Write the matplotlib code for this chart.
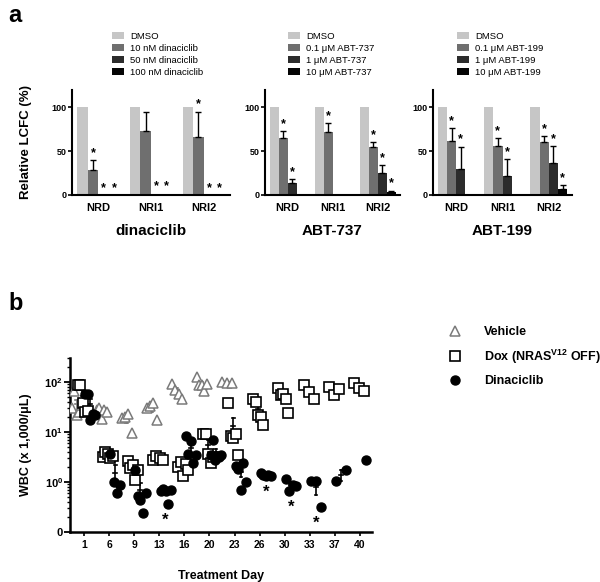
import numpy as np
import matplotlib
matplotlib.use("Agg")
import matplotlib.pyplot as plt
from matplotlib.patches import Patch
from matplotlib.lines import Line2D

plt.rcParams['font.family'] = ['Liberation Sans', 'DejaVu Sans']
plt.rcParams['mathtext.fontset'] = 'custom'
plt.rcParams['mathtext.rm'] = 'Liberation Sans'
plt.rcParams['mathtext.bf'] = 'Liberation Sans:bold'
plt.rcParams['mathtext.it'] = 'Liberation Sans:italic'

# ---------------- panel a data ----------------
lines = ["NRD", "NRI1", "NRI2"]
bar_colors = ["#c6c6c6", "#6f6f6f", "#2c2c2c", "#050505"]

dina_labels = ["DMSO", "10 nM dinaciclib", "50 nM dinaciclib", "100 nM dinaciclib"]
dina_vals = [[100, 29, 0, 0], [100, 73, 1.2, 1.2], [100, 66, 0, 0]]
dina_err = [[0, 11, 0, 0], [0, 22, 0, 0], [0, 29, 0, 0]]
dina_star = [[0, 1, 1, 1], [0, 0, 1, 1], [0, 1, 1, 1]]

abt737_labels = ["DMSO", "0.1 \u03bcM ABT-737", "1 \u03bcM ABT-737", "10 \u03bcM ABT-737"]
abt737_vals = [[100, 65, 14, 0], [100, 72, 0, 0], [100, 55, 25, 3]]
abt737_err = [[0, 8, 4, 0], [0, 10, 0, 0], [0, 5, 9, 2]]
abt737_star = [[0, 1, 1, 0], [0, 1, 0, 0], [0, 1, 1, 1]]

abt199_labels = ["DMSO", "0.1 \u03bcM ABT-199", "1 \u03bcM ABT-199", "10 \u03bcM ABT-199"]
abt199_vals = [[100, 62, 30, 0], [100, 56, 22, 0], [100, 60, 36, 7]]
abt199_err = [[0, 14, 25, 0], [0, 9, 19, 0], [0, 7, 20, 4]]
abt199_star = [[0, 1, 1, 0], [0, 1, 1, 0], [0, 1, 1, 1]]

# ---------------- panel b data ----------------
days = ["1", "6", "9", "13", "16", "20", "23", "26", "30", "33", "37", "40"]
vehicle = [
    [30, 65, 22, 25, 35],
    [28, 30, 18, 27, 25],
    [19, 20, 23, 9.5],
    [30, 33, 37, 17],
    [90, 70, 57, 45],
    [125, 85, 85, 65, 90],
    [100, 97, 96],
    [], [], [], [], [],
]
dox = [
    [85, 85, 38, 25, 26],
    [3.2, 4.0, 3.6, 3.0, 3.3],
    [2.6, 1.9, 2.2, 1.1, 1.7],
    [2.8, 3.3, 3.0, 2.7],
    [2.0, 2.5, 1.3, 2.3, 1.7],
    [9.2, 9.2, 3.6, 2.4, 3.2],
    [37, 8.2, 7.6, 9.0, 3.5],
    [45, 40, 22, 20, 14],
    [75, 55, 58, 45, 24],
    [85, 62, 45],
    [80, 55, 72],
    [95, 75, 65],
]
dinaciclib = [
    [58, 58, 17, 23, 22],
    [3.6, 1.0, 0.6, 0.87],
    [1.7, 0.52, 0.44, 0.24, 0.6],
    [0.65, 0.72, 0.66, 0.37, 0.68],
    [8.3, 3.6, 6.5, 2.4, 3.5],
    [3.5, 7.0, 2.8, 3.3, 3.2, 3.4],
    [2.1, 1.8, 0.68, 2.4, 1.0],
    [1.5, 1.4, 1.3, 1.35, 1.3],
    [1.15, 0.65, 0.85, 0.83],
    [1.05, 1.05, 0.31],
    [1.05, 1.75],
    [2.7],
]
dina_sig_days = ["13", "26", "30", "33"]

fig = plt.figure(figsize=(6.0, 5.82), dpi=100)
W, H = 600.0, 582.0


def px_axes(x0, y0, x1, y1):
    return fig.add_axes([x0 / W, 1 - y1 / H, (x1 - x0) / W, (y1 - y0) / H])


def bar_panel(ax, vals, errs, stars, labels, title, leg_x, ylabel=False):
    vals = np.asarray(vals, dtype=float)
    errs = np.asarray(errs, dtype=float)
    x = np.arange(len(lines))
    w = 0.2
    for j in range(4):
        xs = x + (j - 1.5) * w
        ax.bar(xs, vals[:, j], width=w, color=bar_colors[j], label=labels[j])
        for i in range(len(lines)):
            if errs[i, j] > 0:
                ax.errorbar(xs[i], vals[i, j], yerr=[[0], [errs[i, j]]], fmt='none',
                            ecolor='black', elinewidth=1.0, capsize=2.5, capthick=1.0)
            if stars[i][j]:
                ax.text(xs[i], vals[i, j] + errs[i, j] + 1.5, "*", ha='center', va='bottom',
                        fontsize=9, fontweight='bold')
    ax.set_xlim(-0.5, 2.5)
    ax.set_ylim(0, 120)
    ax.set_yticks([0, 50, 100])
    ax.set_yticklabels(["0", "50", "100"], fontsize=6.5, fontweight='bold')
    ax.set_xticks(x)
    ax.set_xticklabels(lines, fontsize=8, fontweight='bold')
    ax.tick_params(axis='x', length=0, pad=6)
    ax.tick_params(axis='y', length=3, width=1.2, pad=1)
    for s in ['top', 'right']:
        ax.spines[s].set_visible(False)
    ax.spines['left'].set_linewidth(1.5)
    ax.spines['bottom'].set_linewidth(1.5)
    ax.set_xlabel(title, fontsize=11, fontweight='bold', labelpad=8)
    if ylabel:
        ax.set_ylabel("Relative LCFC (%)", fontsize=9.5, fontweight='bold', labelpad=14)
    handles = [Patch(facecolor=c) for c in bar_colors]
    fig.legend(handles, labels, loc='upper left', bbox_to_anchor=(leg_x / W, 1 - 32 / H),
               frameon=False, fontsize=6.8, handlelength=1.3, handleheight=0.7,
               labelspacing=0.32, handletextpad=0.6, borderpad=0, borderaxespad=0)


ax1 = px_axes(72, 90, 230, 195)
bar_panel(ax1, dina_vals, dina_err, dina_star, dina_labels, "dinaciclib", 112, ylabel=True)
ax2 = px_axes(265, 90, 400, 195)
bar_panel(ax2, abt737_vals, abt737_err, abt737_star, abt737_labels, "ABT-737", 288)
ax3 = px_axes(433, 90, 572, 195)
bar_panel(ax3, abt199_vals, abt199_err, abt199_star, abt199_labels, "ABT-199", 457)

fig.text(8 / W, 1 - 4 / H, "a", fontsize=17, fontweight='bold', va='top', ha='left')
fig.text(8 / W, 1 - 292 / H, "b", fontsize=17, fontweight='bold', va='top', ha='left')

# ---------------- panel b ----------------
axb = px_axes(70, 358, 372, 532)
offsets = {"vehicle": -0.3, "dox": -0.05, "dina": 0.25}
styles = {
    "vehicle": dict(marker='^', mfc='white', mec='#7a7a7a', ms=7.5, mew=1.1),
    "dox": dict(marker='s', mfc='white', mec='black', ms=6.5, mew=1.2),
    "dina": dict(marker='o', mfc='black', mec='black', ms=6.5, mew=1.0),
}
series = {"vehicle": vehicle, "dox": dox, "dina": dinaciclib}
for key, data in series.items():
    for i, pts in enumerate(data):
        if len(pts) == 0:
            continue
        pts = np.asarray(pts, dtype=float)
        cx = i + offsets[key]
        n = len(pts)
        xs = cx + (np.linspace(-0.2, 0.2, n) if n > 1 else np.zeros(1))
        axb.plot(xs, pts, linestyle='none', zorder=3, **styles[key])
        if n > 1:
            m = pts.mean()
            sem = pts.std(ddof=1) / np.sqrt(n)
            lo = max(m - sem, 0.1)
            ecol = '#7a7a7a' if key == "vehicle" else 'black'
            axb.plot([cx, cx], [lo, m + sem], color=ecol, lw=1.2, zorder=2)
            for yy in (lo, m + sem):
                axb.plot([cx - 0.05, cx + 0.05], [yy, yy], color=ecol, lw=1.2, zorder=2)
            axb.plot([cx - 0.08, cx + 0.08], [m, m], color=ecol, lw=1.2, zorder=2)

for d in dina_sig_days:
    i = days.index(d)
    axb.text(i + offsets["dina"], min(dinaciclib[i]) / 1.5, "*", ha='center', va='top',
             fontsize=12, fontweight='bold')

axb.set_yscale('log')
axb.set_ylim(0.1, 300)
axb.set_yticks([0.1, 1, 10, 100])
axb.set_yticklabels(["0", r"$\mathbf{10^{0}}$", r"$\mathbf{10^{1}}$", r"$\mathbf{10^{2}}$"],
                    fontsize=8, fontweight='bold')
axb.set_xlim(-0.56, 11.48)
axb.set_xticks(np.arange(len(days)))
axb.set_xticklabels(days, fontsize=7.5, fontweight='bold')
axb.tick_params(axis='x', length=3, width=1.2, pad=3)
axb.tick_params(axis='y', which='major', length=4, width=1.3, pad=1)
axb.tick_params(axis='y', which='minor', length=2.5, width=1.0)
for s in ['top', 'right']:
    axb.spines[s].set_visible(False)
axb.spines['left'].set_linewidth(1.8)
axb.spines['bottom'].set_linewidth(1.8)
axb.set_xlabel("Treatment Day", fontsize=9, fontweight='bold', labelpad=14)
axb.set_ylabel("WBC (x 1,000/\u03bcL)", fontsize=9, fontweight='bold', labelpad=9)

leg_handles = [
    Line2D([], [], linestyle='none', **styles["vehicle"]),
    Line2D([], [], linestyle='none', **styles["dox"]),
    Line2D([], [], linestyle='none', **styles["dina"]),
]
leg_labels = ["Vehicle", r"Dox (NRAS$^{\mathbf{V12}}$ OFF)", "Dinaciclib"]
fig.legend(leg_handles, leg_labels, loc='upper left', bbox_to_anchor=(449 / W, 1 - 326 / H),
           frameon=False, prop=dict(size=9, weight='bold'), handlelength=1.0,
           handletextpad=1.8, labelspacing=0.75, borderpad=0, borderaxespad=0)

fig.savefig("out.png", dpi=100)
